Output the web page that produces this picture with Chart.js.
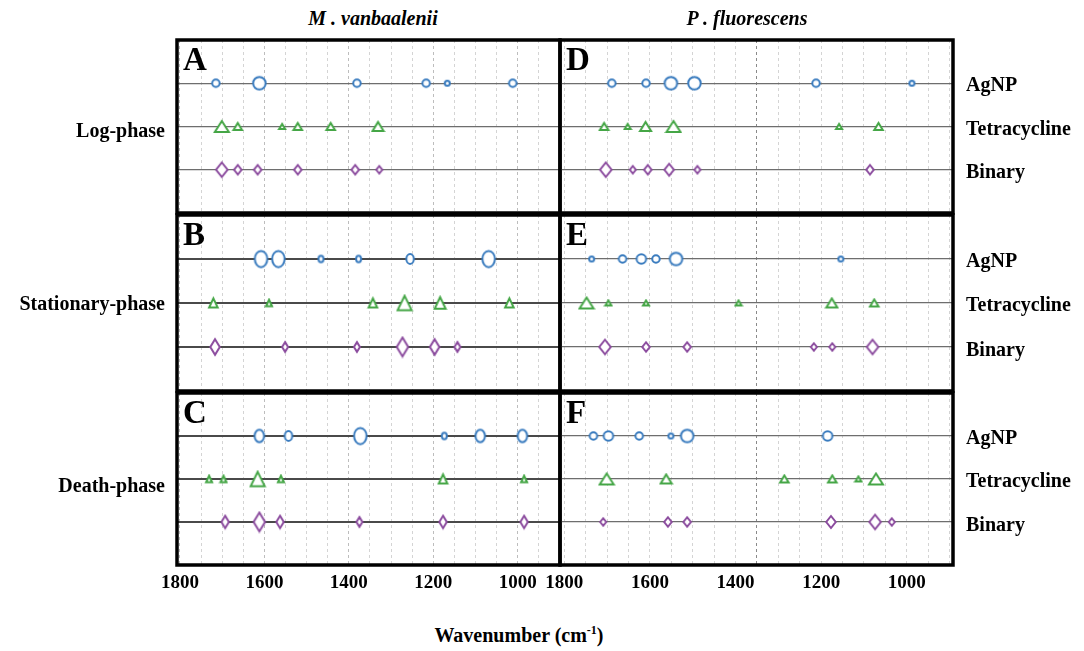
<!DOCTYPE html>
<html>
<head>
<meta charset="utf-8">
<script src="https://cdn.jsdelivr.net/npm/chart.js@4.4.1/dist/chart.umd.min.js"></script>
<style>
    body {
        margin: 0;
        background: #fff;
        width: 1084px;
        height: 651px;
        position: relative;
        overflow: hidden;
        font-family: "Liberation Serif", "Times New Roman", serif;
    }
    .panel { position: absolute; }
    .txt {
        position: absolute;
        font-weight: bold;
        color: #000;
        white-space: nowrap;
        line-height: 1;
    }
    .letter { font-size: 33px; }
    .title { font-size: 20px; font-style: italic; transform: translateX(-50%); }
    .phase { font-size: 20px; text-align: right; transform: translate(-100%, -50%); }
    .row { font-size: 20px; transform: translateY(-50%); }
    .xtitle { font-size: 20px; transform: translateX(-50%); }
</style>
</head>
<body>
<div id="root"></div>
<script>
// Band positions (cm-1) with band strength class 1..4, one list per treatment
const treatments = ['AgNP', 'Tetracycline', 'Binary'];
const phases = ['Log-phase', 'Stationary-phase', 'Death-phase'];
const species = ['M . vanbaalenii', 'P . fluorescens'];
const xTickLabels = [1800, 1600, 1400, 1200, 1000];

// M. vanbaalenii - log phase (A)
const mvLogAg = [[1715, 2], [1612, 4], [1381, 2], [1217, 2], [1167, 1], [1012, 2]];
const mvLogTc = [[1701, 4], [1663, 2], [1558, 1], [1521, 2], [1443, 2], [1331, 3]];
const mvLogBi = [[1701, 4], [1663, 2], [1616, 2], [1521, 2], [1385, 2], [1328, 1]];
// M. vanbaalenii - stationary phase (B)
const mvStatAg = [[1608, 4], [1567, 4], [1466, 1], [1377, 1], [1255, 2], [1069, 4]];
const mvStatTc = [[1721, 2], [1589, 1], [1343, 2], [1268, 4], [1184, 3], [1020, 2]];
const mvStatBi = [[1717, 3], [1551, 1], [1381, 1], [1273, 4], [1197, 3], [1143, 1]];
// M. vanbaalenii - death phase (C)
const mvDeathAg = [[1612, 3], [1543, 2], [1373, 4], [1174, 1], [1089, 3], [989, 3]];
const mvDeathTc = [[1731, 1], [1697, 1], [1616, 4], [1561, 1], [1177, 2], [985, 1]];
const mvDeathBi = [[1693, 2], [1612, 4], [1563, 2], [1375, 1], [1177, 2], [985, 2]];
// P. fluorescens - log phase (D)
const pfLogAg = [[1689, 2], [1609, 2], [1551, 4], [1496, 4], [1212, 2], [988, 1]];
const pfLogTc = [[1707, 2], [1652, 1], [1610, 3], [1545, 4], [1158, 1], [1066, 2]];
const pfLogBi = [[1703, 4], [1640, 1], [1605, 2], [1555, 3], [1489, 1], [1086, 2]];
// P. fluorescens - stationary phase (E)
const pfStatAg = [[1736, 1], [1664, 2], [1620, 3], [1586, 2], [1539, 4], [1154, 1]];
const pfStatTc = [[1748, 4], [1697, 1], [1609, 1], [1393, 1], [1175, 3], [1076, 2]];
const pfStatBi = [[1705, 4], [1609, 2], [1513, 2], [1217, 1], [1174, 1], [1080, 4]];
// P. fluorescens - death phase (F)
const pfDeathAg = [[1732, 2], [1697, 3], [1625, 2], [1551, 1], [1513, 4], [1185, 3]];
const pfDeathTc = [[1701, 4], [1562, 3], [1286, 2], [1174, 2], [1113, 1], [1072, 4]];
const pfDeathBi = [[1709, 1], [1558, 2], [1513, 2], [1177, 3], [1074, 4], [1035, 1]];

// layout
const PAD = 25;
const AXIS_H = 26;
const colLeft = [177, 560];
const colWidth = [383, 393];
const colRange = [[900, 1807], [892, 1810]];
const rowTop = [38, 213, 391];
const rowHeight = [175, 178, 174];

const markerShape = ['circle', 'triangle', 'diamond'];
const markerColor = ['#3a7cbf', '#45a646', '#8b4b9e'];
// width, height of each marker per strength class
const markerDims = {
    circle:   [null, [5, 5], [7.5, 7.5], [9.5, 9.5], [12.5, 12.5]],
    triangle: [null, [6, 5], [8.5, 7], [11, 9], [14, 11]],
    diamond:  [null, [6, 7.5], [7.5, 9.5], [9.5, 12], [11.5, 14.5]]
};

const panels = [
    { letter: 'A', col: 0, row: 0, rows: [mvLogAg, mvLogTc, mvLogBi], stretch: 1, heavy: false },
    { letter: 'B', col: 0, row: 1, rows: [mvStatAg, mvStatTc, mvStatBi], stretch: 1.3, heavy: true },
    { letter: 'C', col: 0, row: 2, rows: [mvDeathAg, mvDeathTc, mvDeathBi], stretch: 1.3, heavy: true },
    { letter: 'D', col: 1, row: 0, rows: [pfLogAg, pfLogTc, pfLogBi], stretch: 1, heavy: false },
    { letter: 'E', col: 1, row: 1, rows: [pfStatAg, pfStatTc, pfStatBi], stretch: 1, heavy: false },
    { letter: 'F', col: 1, row: 2, rows: [pfDeathAg, pfDeathTc, pfDeathBi], stretch: 1, heavy: false }
];

const markerCache = {};

// Build the outline marker as a small canvas, used as pointStyle
function markerImage(shape, level, stretch, color) {
    const key = shape + level + '_' + stretch + color;
    if (markerCache[key]) return markerCache[key];
    const d = markerDims[shape][level];
    const w = d[0];
    const h = d[1] * stretch;
    const lw = 2;
    const c = document.createElement('canvas');
    c.width = Math.ceil(w + lw + 2);
    c.height = Math.ceil(h + lw + 2);
    const g = c.getContext('2d');
    const cx = c.width / 2;
    const cy = c.height / 2;
    g.beginPath();
    if (shape === 'circle') {
        g.ellipse(cx, cy, w / 2, h / 2, 0, 0, Math.PI * 2);
    } else if (shape === 'triangle') {
        g.moveTo(cx, cy - h / 2);
        g.lineTo(cx + w / 2, cy + h / 2);
        g.lineTo(cx - w / 2, cy + h / 2);
        g.closePath();
    } else {
        g.moveTo(cx, cy - h / 2);
        g.lineTo(cx + w / 2, cy);
        g.lineTo(cx, cy + h / 2);
        g.lineTo(cx - w / 2, cy);
        g.closePath();
    }
    g.fillStyle = '#fff';
    g.fill();
    g.lineWidth = lw;
    g.strokeStyle = color;
    g.stroke();
    markerCache[key] = c;
    return c;
}

// Thick black frame round each panel
const panelFrame = {
    id: 'panelFrame',
    afterDraw(chart) {
        const a = chart.chartArea;
        const ctx = chart.ctx;
        ctx.save();
        ctx.lineWidth = 3.5;
        ctx.strokeStyle = '#000';
        ctx.strokeRect(a.left, a.top, a.right - a.left, a.bottom - a.top);
        ctx.restore();
    }
};

const root = document.getElementById('root');

function addText(cls, text, x, y) {
    const el = document.createElement('div');
    el.className = 'txt ' + cls;
    el.innerHTML = text;
    el.style.left = x + 'px';
    el.style.top = y + 'px';
    root.appendChild(el);
    return el;
}

function buildPanel(p) {
    const left = colLeft[p.col];
    const width = colWidth[p.col];
    const top = rowTop[p.row];
    const height = rowHeight[p.row];
    const isBottom = p.row === 2;
    const rightCol = p.col === 1;

    const box = document.createElement('div');
    box.className = 'panel';
    box.style.left = (left - PAD) + 'px';
    box.style.top = (top - 3) + 'px';
    box.style.width = (width + 2 * PAD) + 'px';
    box.style.height = (height + 3 + AXIS_H) + 'px';
    const canvas = document.createElement('canvas');
    box.appendChild(canvas);
    root.appendChild(box);

    const datasets = p.rows.map((rowData, i) => ({
        label: treatments[i],
        data: rowData.map(b => ({ x: b[0], y: 3 - i })),
        pointStyle: rowData.map(b => markerImage(markerShape[i], b[1], p.stretch, markerColor[i])),
        showLine: false
    }));

    new Chart(canvas, {
        type: 'scatter',
        data: { datasets: datasets },
        options: {
            responsive: true,
            maintainAspectRatio: false,
            animation: false,
            events: [],
            layout: { padding: { left: PAD, right: PAD, top: 3, bottom: 0 } },
            plugins: {
                legend: { display: false },
                tooltip: { enabled: false }
            },
            scales: {
                x: {
                    type: 'linear',
                    reverse: true,
                    min: colRange[p.col][0],
                    max: colRange[p.col][1],
                    afterFit(scale) { scale.height = AXIS_H; },
                    border: { display: false, dash: [3, 3] },
                    grid: {
                        drawTicks: false,
                        lineWidth: 1,
                        color(ctx) {
                            const v = ctx.tick.value;
                            if (v % 50 !== 0) return 'rgba(0,0,0,0)';
                            if (rightCol && v === 1350) return '#8a8a8a';
                            if (!rightCol && v % 200 === 0) return '#bdbdbd';
                            return '#d4d4d4';
                        }
                    },
                    ticks: {
                        stepSize: 50,
                        includeBounds: false,
                        autoSkip: false,
                        maxRotation: 0,
                        padding: 7,
                        color: '#000',
                        font: { family: '"Liberation Serif", "Times New Roman", serif', size: 19, weight: 'bold' },
                        callback(v) {
                            return (isBottom && xTickLabels.includes(v)) ? String(v) : '';
                        }
                    }
                },
                y: {
                    min: 0,
                    max: 4,
                    afterFit(scale) { scale.width = 0; },
                    border: { display: false },
                    grid: {
                        drawTicks: false,
                        lineWidth: p.heavy ? 2 : 1.3,
                        color(ctx) {
                            const v = ctx.tick.value;
                            if (v < 1 || v > 3) return 'rgba(0,0,0,0)';
                            return p.heavy ? '#4a4a4a' : '#6e6e6e';
                        }
                    },
                    ticks: { display: false, stepSize: 1 }
                }
            }
        },
        plugins: [panelFrame]
    });

    addText('letter', p.letter, left + 6, top + 5);

    if (rightCol) {
        treatments.forEach((t, i) => {
            addText('row', t, 966, top + height * (i + 1) / 4 + 2);
        });
    }
}

panels.forEach(buildPanel);

// titles and side labels
addText('title', '<i>' + species[0] + '</i>', 373, 8);
addText('title', '<i>' + species[1] + '</i>', 747, 8);
const phaseY = [130, 303, 485];
phases.forEach((ph, i) => addText('phase', ph, 165, phaseY[i]));
addText('xtitle', 'Wavenumber (cm<sup style="font-size:12px">-1</sup>)', 519, 624);
</script>
</body>
</html>
